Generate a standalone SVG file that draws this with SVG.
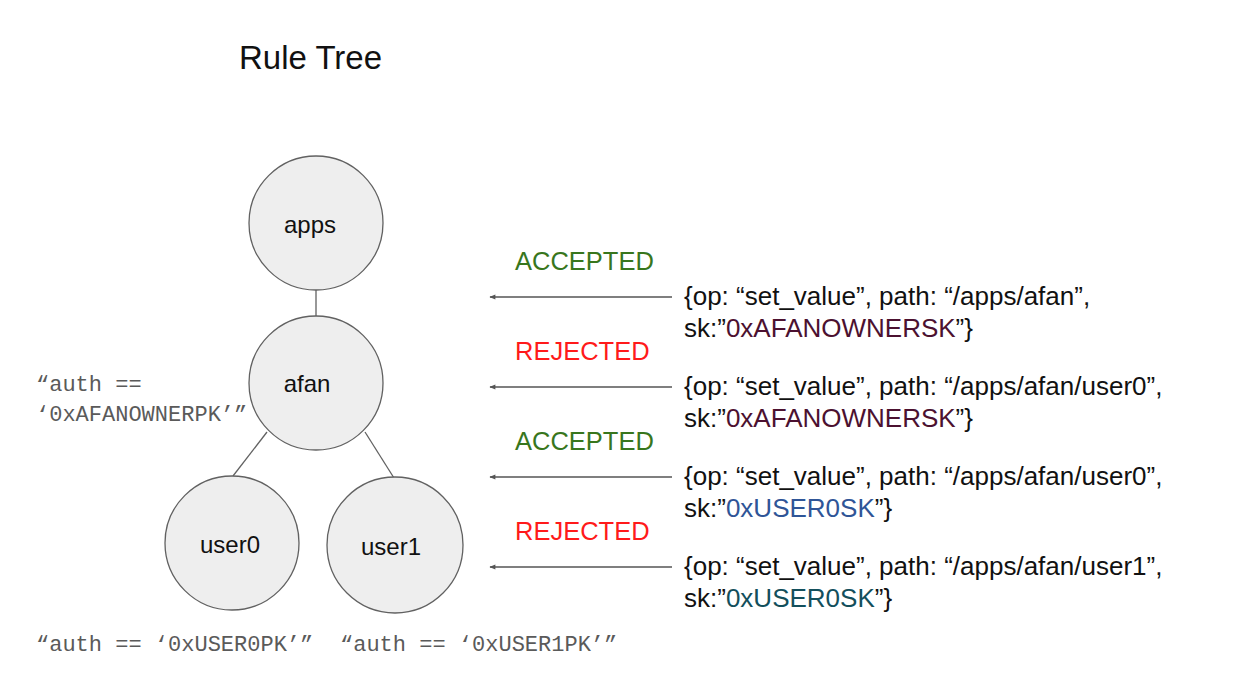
<svg xmlns="http://www.w3.org/2000/svg" width="1260" height="696" viewBox="0 0 1260 696">
<style>
.node{fill:#eeeeee;stroke:#616161;stroke-width:1.3}
.nl{font-family:"Liberation Sans",Arial,sans-serif;font-size:24px;fill:#111;text-anchor:middle}
.edge{stroke:#616161;stroke-width:1.3;fill:none}
.arr{stroke:#555;stroke-width:1.3;fill:none;marker-end:url(#ah)}
.st{font-family:"Liberation Sans",Arial,sans-serif;font-size:25.5px}
.acc{fill:#38761d}
.rej{fill:#ff1a1a}
.msg{font-family:"Liberation Sans",Arial,sans-serif;font-size:26px;fill:#111}
.mono{font-family:"Liberation Mono","Courier New",monospace;font-size:22px;fill:#5a5a5a}
</style>
<defs>
<marker id="ah" viewBox="0 0 10 10" refX="9" refY="5" markerWidth="7" markerHeight="6" orient="auto" markerUnits="userSpaceOnUse">
<path d="M0,1 L10,5 L0,9 Z" fill="#555"/>
</marker>
</defs>
<rect width="1260" height="696" fill="#ffffff"/>
<text x="239" y="69" font-family="Liberation Sans,Arial,sans-serif" font-size="33" fill="#111">Rule Tree</text>
<g id="connectors">
<line class="edge" x1="316" y1="290" x2="316" y2="316"/>
<line class="edge" x1="267" y1="432" x2="233" y2="476"/>
<line class="edge" x1="365" y1="432" x2="394" y2="478"/>
<line class="arr" x1="672" y1="297" x2="490" y2="297"/>
<line class="arr" x1="672" y1="387" x2="490" y2="387"/>
<line class="arr" x1="672" y1="477" x2="490" y2="477"/>
<line class="arr" x1="672" y1="567" x2="490" y2="567"/>
</g>
<g id="apps"><circle class="node" cx="316" cy="223" r="67"/><text class="nl" x="310" y="233">apps</text></g>
<g id="afan"><circle class="node" cx="316" cy="383" r="67"/><text class="nl" x="307" y="392">afan</text></g>
<g id="user0"><circle class="node" cx="232" cy="543" r="67"/><text class="nl" x="230" y="553">user0</text></g>
<g id="user1"><circle class="node" cx="395" cy="545" r="68"/><text class="nl" x="391" y="555">user1</text></g>
<g id="rule-afan"><text class="mono" x="36" y="391">“auth ==</text><text class="mono" x="36" y="421">‘0xAFANOWNERPK’”</text></g>
<g id="rule-user0"><text class="mono" x="36" y="651">“auth == ‘0xUSER0PK’”</text></g>
<g id="rule-user1"><text class="mono" x="340" y="651">“auth == ‘0xUSER1PK’”</text></g>
<g id="status">
<text class="st acc" x="515" y="270">ACCEPTED</text>
<text class="st rej" x="515" y="360">REJECTED</text>
<text class="st acc" x="515" y="450">ACCEPTED</text>
<text class="st rej" x="515" y="540">REJECTED</text>
</g>
<g id="msg1"><text class="msg" x="684" y="305">{op: “set_value”, path: “/apps/afan”,</text><text class="msg" x="684" y="337">sk:”<tspan fill="#4c1130">0xAFANOWNERSK</tspan>”}</text></g>
<g id="msg2"><text class="msg" x="684" y="395">{op: “set_value”, path: “/apps/afan/user0”,</text><text class="msg" x="684" y="427">sk:”<tspan fill="#4c1130">0xAFANOWNERSK</tspan>”}</text></g>
<g id="msg3"><text class="msg" x="684" y="485">{op: “set_value”, path: “/apps/afan/user0”,</text><text class="msg" x="684" y="517">sk:”<tspan fill="#2f5597">0xUSER0SK</tspan>”}</text></g>
<g id="msg4"><text class="msg" x="684" y="575">{op: “set_value”, path: “/apps/afan/user1”,</text><text class="msg" x="684" y="607">sk:”<tspan fill="#134f5c">0xUSER0SK</tspan>”}</text></g>
</svg>
